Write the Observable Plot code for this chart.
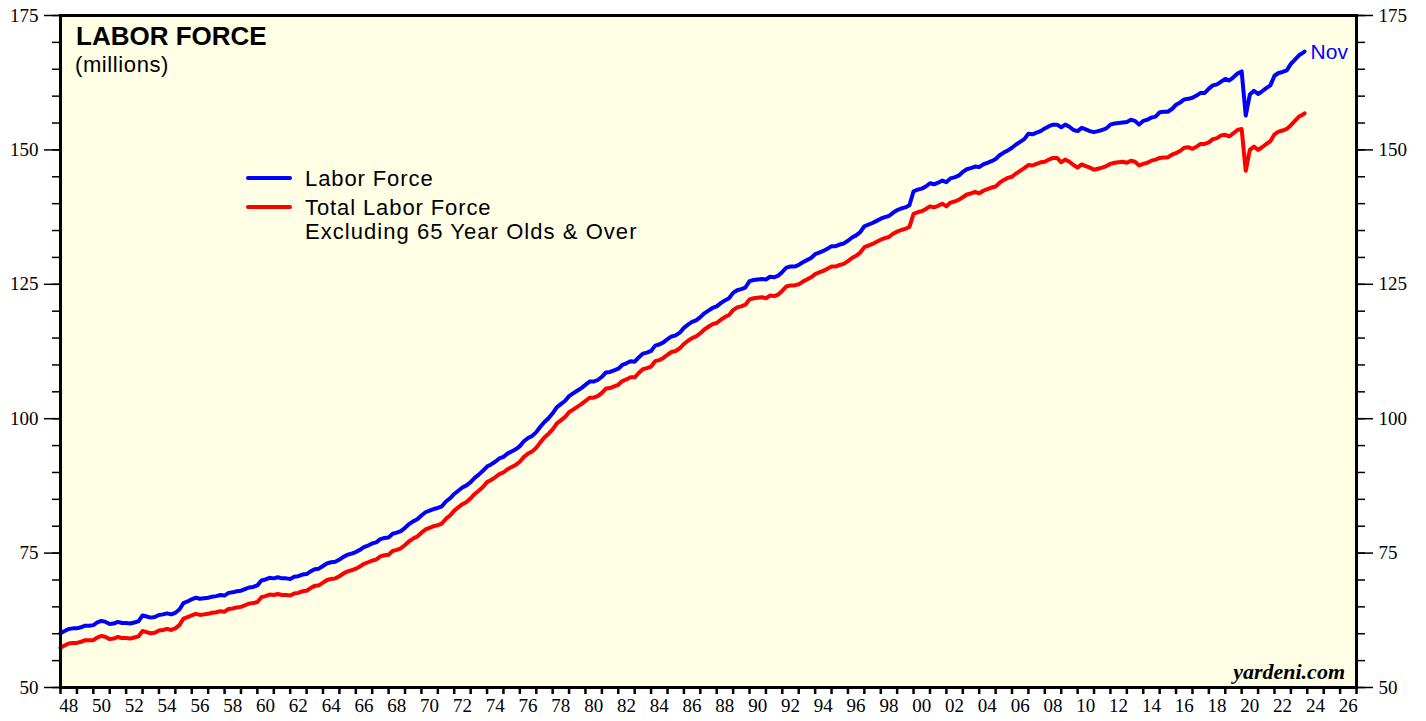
<!DOCTYPE html>
<html>
<head>
<meta charset="utf-8">
<script src="https://cdn.jsdelivr.net/npm/d3@7"></script>
<script src="https://cdn.jsdelivr.net/npm/@observablehq/plot@0.6"></script>
<style>
  html, body { margin: 0; padding: 0; background: #ffffff; }
  #wrap { position: relative; width: 1426px; height: 721px; overflow: hidden; }
  .ov { position: absolute; white-space: nowrap; line-height: 1; }
  .sans { font-family: "Liberation Sans", Arial, sans-serif; color: #000; }
  .swatch { position: absolute; height: 4px; border-radius: 2px; }
</style>
</head>
<body>
<div id="wrap">
  <div id="chart"></div>
  <div class="ov sans" style="left:76px; top:23px; font-size:26px; font-weight:bold;">LABOR FORCE</div>
  <div class="ov sans" style="left:75px; top:54px; font-size:22px; letter-spacing:0.6px;">(millions)</div>
  <div class="swatch" style="left:246px; top:176px; width:46px; background:#0000ff;"></div>
  <div class="ov sans" style="left:305px; top:168px; font-size:22px; letter-spacing:0.9px;">Labor Force</div>
  <div class="swatch" style="left:246px; top:205px; width:46px; background:#ff0000;"></div>
  <div class="ov sans" style="left:305px; top:197px; font-size:22px; letter-spacing:0.9px;">Total Labor Force</div>
  <div class="ov sans" style="left:305px; top:221px; font-size:22px; letter-spacing:1.05px;">Excluding 65 Year Olds &amp; Over</div>
  <div class="ov" style="right:81px; top:661px; font-family:'Liberation Serif', 'Times New Roman', serif; font-size:22px; font-weight:bold; font-style:italic;">yardeni.com</div>
</div>
<script>
// Quarterly observations (Jan, Apr, Jul, Oct), 1948 through 2023, millions
const startYear = 1948;
const laborForce = [
  60.1, 60.5, 60.9, 61.0,   61.0, 61.2, 61.5, 61.5,   61.6, 62.1, 62.4, 62.2,   61.8, 61.9, 62.2, 62.0,
  62.0, 61.9, 62.1, 62.3,   63.4, 63.2, 63.0, 63.1,   63.5, 63.6, 63.8, 63.6,   63.9, 64.5, 65.7, 66.0,
  66.4, 66.7, 66.5, 66.6,   66.7, 66.9, 67.0, 67.2,   67.1, 67.6, 67.7, 67.9,   68.0, 68.3, 68.6, 68.7,
  69.0, 69.9, 70.1, 70.4,   70.3, 70.5, 70.3, 70.3,   70.2, 70.6, 70.7, 71.0,   71.1, 71.6, 72.0, 72.1,
  72.6, 73.1, 73.3, 73.4,   73.8, 74.3, 74.7, 74.9,   75.2, 75.6, 76.1, 76.4,   76.8, 77.0, 77.6, 77.8,
  77.9, 78.6, 78.8, 79.1,   79.7, 80.4, 80.9, 81.3,   82.0, 82.6, 82.9, 83.2,   83.4, 83.7, 84.6, 85.2,
  86.0, 86.6, 87.2, 87.6,   88.2, 89.0, 89.6, 90.3,   91.1, 91.5, 92.0, 92.6,   92.9, 93.5, 93.9, 94.3,
  94.9, 95.8, 96.4, 96.8,   97.5, 98.5, 99.4, 100.1,  101.0, 102.1, 102.7, 103.3, 104.2, 104.7, 105.2, 105.7,
  106.3, 106.9, 106.9, 107.2, 107.8, 108.6, 108.7, 109.0, 109.3, 110.0, 110.3, 110.7, 110.6, 111.4, 112.1, 112.3,
  112.6, 113.6, 113.8, 114.2, 114.8, 115.3, 115.5, 116.0, 116.9, 117.5, 118.0, 118.3, 118.9, 119.6, 120.1, 120.6,
  120.9, 121.5, 122.0, 122.4, 123.4, 123.9, 124.1, 124.4, 125.6, 125.8, 125.9, 126.0, 125.9, 126.4, 126.3, 126.6,
  127.3, 128.1, 128.3, 128.3, 128.6, 129.1, 129.5, 129.9, 130.6, 130.9, 131.2, 131.6, 132.1, 132.1, 132.4, 132.6,
  133.1, 133.7, 134.1, 134.7, 135.8, 136.1, 136.4, 136.8, 137.2, 137.5, 137.7, 138.3, 138.8, 139.1, 139.3, 139.7,
  142.3, 142.6, 142.8, 143.2, 143.8, 143.6, 143.9, 144.3, 144.0, 144.7, 144.9, 145.2, 145.9, 146.4, 146.6, 146.9,
  146.8, 147.3, 147.6, 147.9, 148.3, 149.0, 149.5, 149.9, 150.4, 151.0, 151.5, 152.0, 153.0, 152.9, 153.2, 153.5,
  154.0, 154.4, 154.7, 154.7, 154.2, 154.7, 154.3, 153.7, 153.5, 154.1, 153.8, 153.5, 153.3, 153.5, 153.7, 154.0,
  154.7, 154.9, 155.0, 155.1, 155.2, 155.6, 155.4, 154.7, 155.4, 155.6, 156.0, 156.2, 157.0, 157.1, 157.1, 157.6,
  158.4, 158.8, 159.4, 159.5, 159.7, 160.1, 160.6, 160.6, 161.4, 162.0, 162.2, 162.7, 163.2, 162.9, 163.5, 164.2,
  164.6, 156.4, 160.3, 161.0, 160.4, 160.9, 161.5, 162.0, 163.8, 164.3, 164.5, 164.8, 166.0, 166.8, 167.6, 168.1
];
const laborForceUnder65 = [
  57.4, 57.8, 58.2, 58.3,   58.3, 58.5, 58.8, 58.8,   58.8, 59.3, 59.6, 59.4,   59.0, 59.1, 59.4, 59.2,
  59.2, 59.1, 59.3, 59.5,   60.5, 60.3, 60.1, 60.2,   60.6, 60.7, 60.9, 60.7,   61.0, 61.6, 62.8, 63.1,
  63.4, 63.7, 63.5, 63.6,   63.7, 63.9, 64.0, 64.2,   64.1, 64.6, 64.7, 64.9,   65.0, 65.3, 65.6, 65.7,
  65.9, 66.8, 67.0, 67.3,   67.2, 67.4, 67.2, 67.2,   67.1, 67.5, 67.6, 67.9,   68.0, 68.5, 68.9, 69.0,
  69.5, 70.0, 70.2, 70.3,   70.7, 71.2, 71.6, 71.8,   72.1, 72.5, 73.0, 73.3,   73.6, 73.8, 74.4, 74.6,
  74.7, 75.4, 75.6, 75.9,   76.5, 77.2, 77.7, 78.1,   78.8, 79.4, 79.7, 80.0,   80.2, 80.5, 81.4, 82.0,
  82.9, 83.5, 84.1, 84.5,   85.2, 86.0, 86.6, 87.3,   88.2, 88.6, 89.1, 89.7,   90.0, 90.6, 91.0, 91.4,
  92.0, 92.9, 93.5, 93.9,   94.6, 95.6, 96.5, 97.2,   98.0, 99.1, 99.7, 100.3,  101.2, 101.7, 102.2, 102.7,
  103.3, 103.9, 103.9, 104.2, 104.8, 105.6, 105.7, 106.0, 106.3, 107.0, 107.3, 107.7, 107.7, 108.5, 109.2, 109.4,
  109.7, 110.7, 110.9, 111.3, 111.9, 112.4, 112.6, 113.1, 113.9, 114.5, 115.0, 115.3, 115.9, 116.6, 117.1, 117.6,
  117.8, 118.4, 118.9, 119.3, 120.2, 120.7, 120.9, 121.2, 122.2, 122.4, 122.5, 122.6, 122.4, 122.9, 122.8, 123.1,
  123.8, 124.6, 124.8, 124.8, 125.0, 125.5, 125.9, 126.3, 126.9, 127.2, 127.5, 127.9, 128.3, 128.3, 128.6, 128.8,
  129.3, 129.9, 130.3, 130.9, 131.9, 132.2, 132.5, 132.9, 133.3, 133.6, 133.8, 134.4, 134.8, 135.1, 135.3, 135.7,
  138.1, 138.4, 138.6, 139.0, 139.5, 139.3, 139.6, 140.0, 139.5, 140.2, 140.4, 140.7, 141.2, 141.7, 141.9, 142.2,
  141.9, 142.4, 142.7, 143.0, 143.2, 143.9, 144.4, 144.8, 145.0, 145.6, 146.1, 146.6, 147.2, 147.1, 147.4, 147.7,
  147.8, 148.2, 148.5, 148.5, 147.7, 148.2, 147.8, 147.2, 146.7, 147.3, 147.0, 146.7, 146.3, 146.5, 146.7, 147.0,
  147.4, 147.6, 147.7, 147.8, 147.6, 148.0, 147.8, 147.1, 147.4, 147.6, 148.0, 148.2, 148.5, 148.6, 148.6, 149.1,
  149.4, 149.8, 150.4, 150.5, 150.2, 150.6, 151.1, 151.1, 151.4, 152.0, 152.2, 152.7, 152.8, 152.5, 153.1, 153.7,
  153.9, 146.1, 150.0, 150.6, 150.0, 150.5, 151.1, 151.6, 152.9, 153.4, 153.6, 153.9, 154.6, 155.4, 156.2, 156.6
];
// Latest monthly reading (Nov 2023)
const lastMonth = { year: 2023, month: 10, label: "Nov" };
const laborForceLast = 168.3;
const laborForceUnder65Last = 156.8;

const yMajor = [50, 75, 100, 125, 150, 175];
const yMinor = d3.range(50, 176, 5);
const xYears = d3.range(1948, 2028);
const xLabelYears = d3.range(1948, 2027, 2);

const toRows = (vals, last, series) => {
  const rows = vals.map((v, i) => ({ date: new Date(Date.UTC(startYear, 3 * i, 1)), value: v, series }));
  rows.push({ date: new Date(Date.UTC(lastMonth.year, lastMonth.month, 1)), value: last, series });
  return rows;
};
const blueRows = toRows(laborForce, laborForceLast, "Labor Force");
const redRows = toRows(laborForceUnder65, laborForceUnder65Last, "Under 65");

const serif = "'Liberation Serif', 'Times New Roman', serif";
const bg = "#ffffe6";

const chart = Plot.plot({
  width: 1426,
  height: 721,
  marginLeft: 60,
  marginRight: 70,
  marginTop: 15,
  marginBottom: 34,
  style: { fontFamily: serif, fontSize: "19px", background: "white", overflow: "visible" },
  x: { type: "utc", domain: [new Date(Date.UTC(1948, 0, 1)), new Date(Date.UTC(2027, 0, 1))], axis: null },
  y: { domain: [50, 175], axis: null },
  marks: [
    Plot.frame({ fill: bg, stroke: null }),
    // Y axes, left
    Plot.axisY({ anchor: "left", ticks: yMinor, tickSize: 8, tickFormat: () => "", strokeWidth: 1.5, label: null }),
    Plot.axisY({ anchor: "left", ticks: yMajor, tickSize: 16, tickPadding: 6, strokeWidth: 1.5, fontSize: 19, fontFamily: serif, label: null }),
    // Y axes, right
    Plot.axisY({ anchor: "right", ticks: yMinor, tickSize: 8, tickFormat: () => "", strokeWidth: 1.5, label: null }),
    Plot.axisY({ anchor: "right", ticks: yMajor, tickSize: 16, tickPadding: 6, strokeWidth: 1.5, fontSize: 19, fontFamily: serif, label: null }),
    // X axis: yearly ticks, labels every two years centred on the year
    Plot.axisX({ ticks: xYears.map(y => new Date(Date.UTC(y, 0, 1))), tickSize: 7, tickFormat: () => "", strokeWidth: 2.5, label: null }),
    Plot.axisX({ ticks: xLabelYears.map(y => new Date(Date.UTC(y, 6, 1))), tickSize: 0, tickPadding: 11,
      tickFormat: d => String(d.getUTCFullYear() % 100).padStart(2, "0"), fontSize: 19, fontFamily: serif, label: null }),
    Plot.lineY(redRows, { x: "date", y: "value", stroke: "#ff0000", strokeWidth: 4, strokeLinejoin: "round", strokeLinecap: "round" }),
    Plot.lineY(blueRows, { x: "date", y: "value", stroke: "#0000ff", strokeWidth: 4, strokeLinejoin: "round", strokeLinecap: "round" }),
    Plot.text(blueRows.slice(-1), { x: "date", y: "value", text: () => lastMonth.label, textAnchor: "start", dx: 6, dy: 1,
      fill: "#0000ff", fontSize: 21, fontFamily: "'Liberation Sans', Arial, sans-serif" }),
    Plot.frame({ stroke: "black", strokeWidth: 3 })
  ]
});
document.getElementById("chart").appendChild(chart);
</script>
</body>
</html>
